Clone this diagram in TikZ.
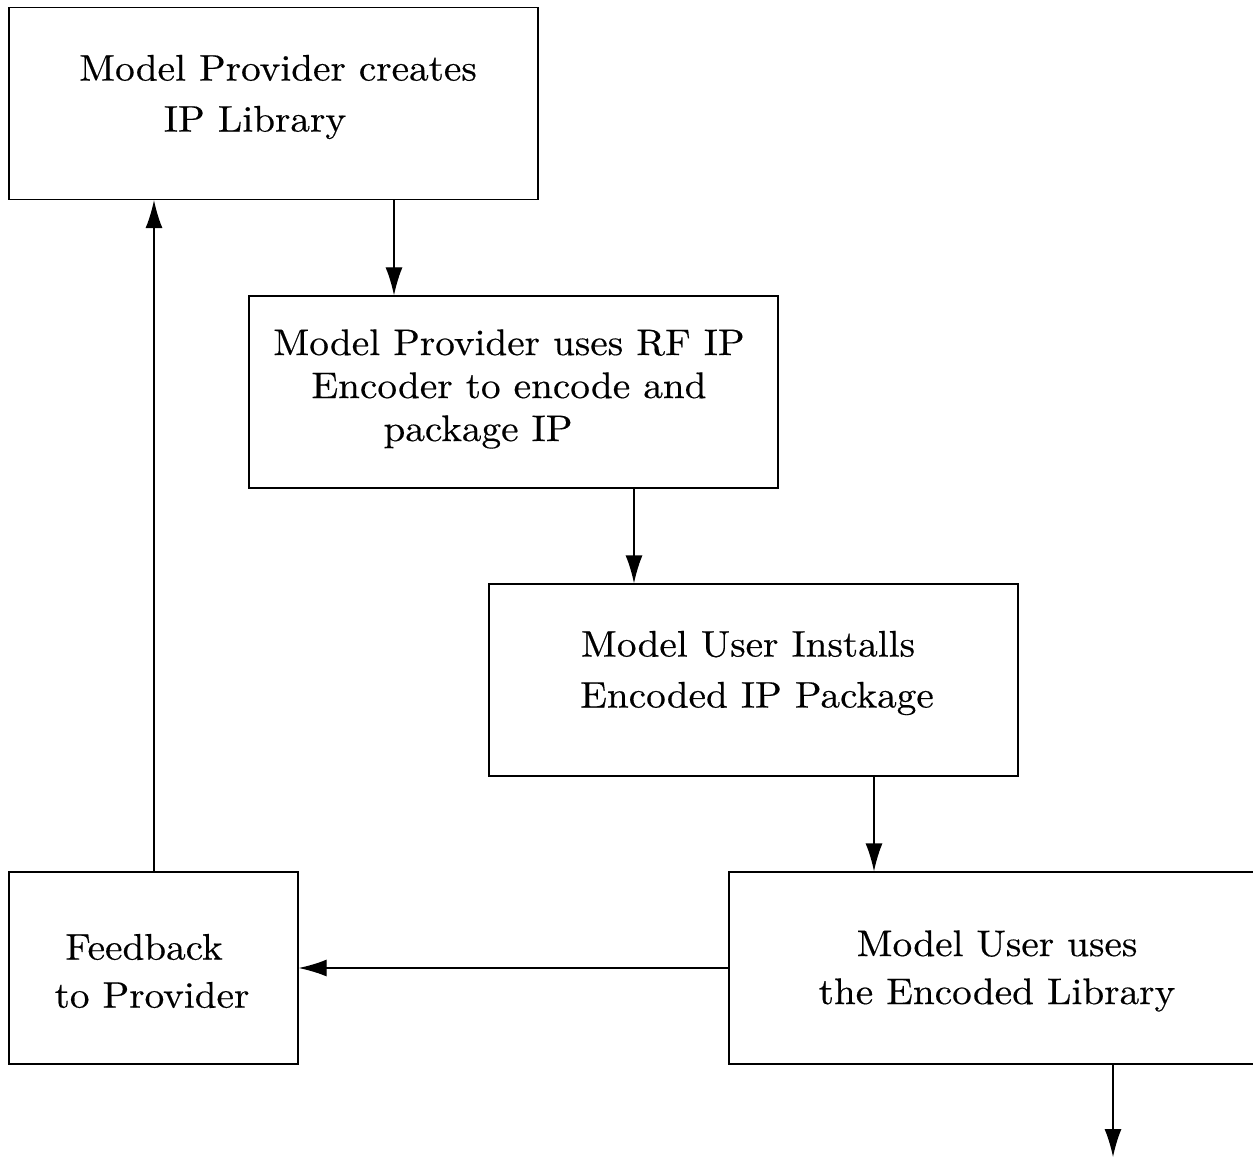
\documentclass[tikz,border=0pt]{standalone}
\usepackage{fontspec}
\usetikzlibrary{arrows.meta}
\newfontfamily\boxfont{lmroman10-regular.otf}[FakeStretch=1.06,FakeBold=0.4]
\begin{document}
\begin{tikzpicture}[x=1pt,y=-1pt,
  box/.style={draw=black,line width=1.3pt,minimum width=529pt,minimum height=192pt,inner sep=0pt,anchor=center},
  smallbox/.style={box,minimum width=289pt},
  txt/.style={align=center,inner sep=0pt,anchor=center,font=\boxfont\fontsize{37}{51}\selectfont},
  arr/.style={line width=1.3pt,-{Latex[length=28pt,width=17pt]}}]
\useasboundingbox (0,0) rectangle (1253,1158);
\node[box] (b1) at (273.5,103.5) {};
\node[box] (b2) at (513.5,392) {};
\node[box] (b3) at (753.5,680) {};
\node[smallbox] (b4) at (153.5,968) {};
\node[box] (b5) at (993.5,968) {};
\node[txt] (t1) at (278,97) {Model Provider creates\\IP Library\hspace*{46pt}};
\node[txt,font=\boxfont\fontsize{37}{43}\selectfont] (t2) at (509,389) {Model Provider uses RF IP\\Encoder to encode and\hspace*{12pt}\\package IP\hspace*{62pt}};
\node[txt] (t3) at (757,673) {\hspace*{-18pt}Model User Installs\\Encoded IP Package};
\node[txt,font=\boxfont\fontsize{37}{48}\selectfont] (t4) at (152,971) {\hspace*{-16pt}Feedback\\to Provider};
\node[txt,font=\boxfont\fontsize{37}{48}\selectfont] (t5) at (997,971) {Model User uses\\the Encoded Library};
\coordinate (c1) at (394,0);
\coordinate (c2) at (634,0);
\coordinate (c3) at (874,0);
\coordinate (c4) at (154,0);
\coordinate (c5) at (1113,0);
\coordinate (e5) at (1113,1157);
\draw[arr] (b1.south -| c1) -- (b2.north -| c1);
\draw[arr] (b2.south -| c2) -- (b3.north -| c2);
\draw[arr] (b3.south -| c3) -- (b5.north -| c3);
\draw[arr] (b5.west) -- (b4.east);
\draw[arr] (b4.north -| c4) -- (b1.south -| c4);
\draw[arr] (b5.south -| c5) -- (e5);
\end{tikzpicture}
\end{document}
